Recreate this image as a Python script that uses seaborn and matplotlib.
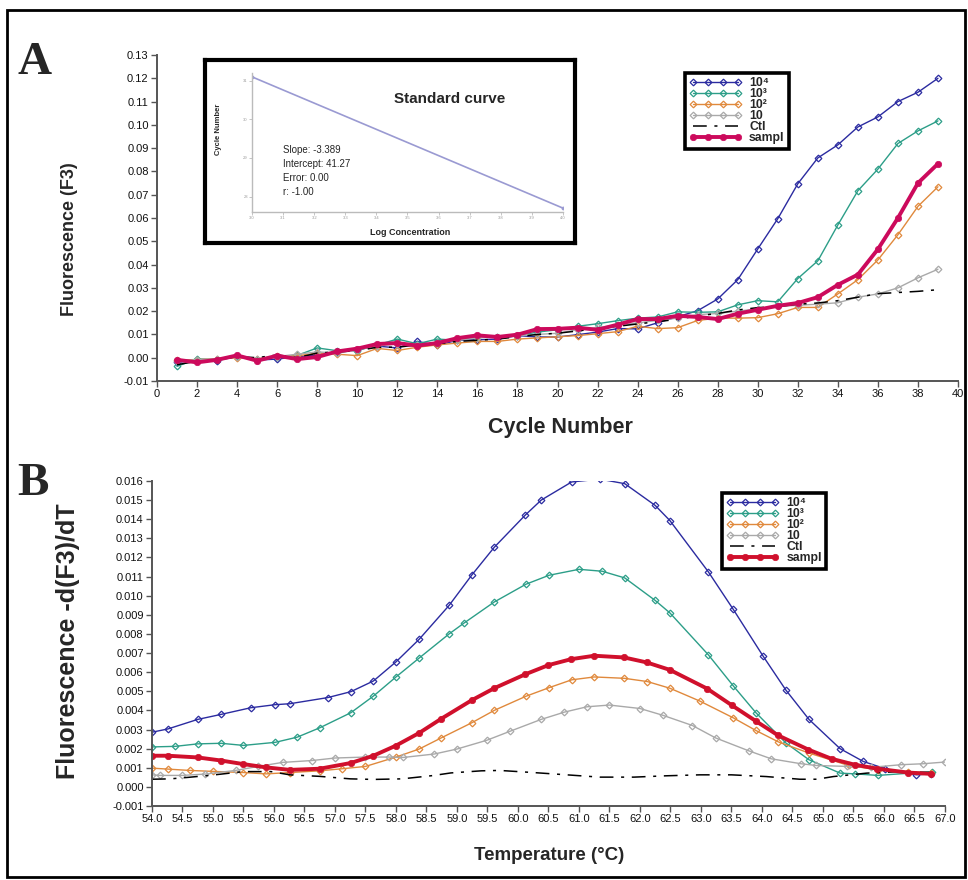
import matplotlib
matplotlib.use("Agg")
import matplotlib.pyplot as plt
from matplotlib.patches import Rectangle
from matplotlib.ticker import MultipleLocator, FormatStrFormatter
import seaborn as sns
import numpy as np

# ---------------- panel A : amplification (F3) per cycle ----------------
cycles = list(range(1, 40))
amp_1e4 = [-0.002, -0.001, -0.0012, 0.0005, -0.001, -0.0006, 0.0005, 0.001, 0.0025, 0.0035,
           0.005, 0.0042, 0.007, 0.0053, 0.0075, 0.0077, 0.008, 0.0095, 0.0089, 0.0089,
           0.0099, 0.011, 0.0125, 0.0124, 0.015, 0.0176, 0.0202, 0.0252, 0.0335, 0.0467,
           0.0597, 0.0747, 0.0858, 0.0914, 0.0991, 0.1034, 0.110, 0.114, 0.120]
amp_1e3 = [-0.0037, -0.0005, -0.0008, 0.0008, -0.0008, 0.0005, 0.001, 0.0042, 0.003, 0.003,
           0.0055, 0.008, 0.006, 0.008, 0.0075, 0.009, 0.009, 0.0095, 0.011, 0.012,
           0.0135, 0.0146, 0.0159, 0.017, 0.0175, 0.0197, 0.0195, 0.0197, 0.0227, 0.0245,
           0.024, 0.034, 0.0416, 0.057, 0.0717, 0.081, 0.092, 0.0974, 0.1017]
amp_1e2 = [-0.001, -0.0008, -0.0005, 0.0, -0.0005, 0.0008, 0.0008, 0.002, 0.0015, 0.0009,
           0.004, 0.0031, 0.0045, 0.0055, 0.0063, 0.007, 0.007, 0.008, 0.0085, 0.009,
           0.0095, 0.0103, 0.0112, 0.0135, 0.0125, 0.0129, 0.016, 0.017, 0.017, 0.0172,
           0.0189, 0.0216, 0.0216, 0.0274, 0.0335, 0.042, 0.0528, 0.065, 0.0734]
amp_1e1 = [-0.0015, -0.0008, -0.0005, 0.0005, -0.0005, 0.0005, 0.0015, 0.0025, 0.002, 0.0035,
           0.005, 0.006, 0.0055, 0.0065, 0.0075, 0.0085, 0.009, 0.0095, 0.01, 0.0105,
           0.012, 0.013, 0.014, 0.015, 0.016, 0.017, 0.0185, 0.019, 0.02, 0.021,
           0.022, 0.0225, 0.023, 0.0236, 0.026, 0.0274, 0.030, 0.0343, 0.038]
amp_ctl = [-0.003, -0.0015, -0.001, 0.0005, 0.0, 0.0012, 0.0, 0.002, 0.0025, 0.003,
           0.0045, 0.0045, 0.0055, 0.006, 0.007, 0.0075, 0.008, 0.009, 0.01, 0.0105,
           0.0115, 0.0125, 0.0135, 0.0145, 0.0155, 0.0165, 0.018, 0.019, 0.0205, 0.0215,
           0.022, 0.023, 0.0235, 0.0245, 0.026, 0.0275, 0.028, 0.0285, 0.0292]
amp_sampl = [-0.0009, -0.002, -0.0009, 0.001, -0.0013, 0.0009, -0.0006, 0.0003, 0.0027, 0.0039,
             0.0059, 0.0063, 0.0052, 0.0063, 0.0084, 0.0096, 0.0089, 0.0099, 0.0123, 0.0124,
             0.0129, 0.012, 0.0142, 0.0166, 0.0166, 0.018, 0.0175, 0.0166, 0.0189, 0.0206,
             0.0223, 0.0235, 0.026, 0.0313, 0.0357, 0.0466, 0.060, 0.075, 0.0833]

# standard curve inset
std_logconc = [3.0, 4.0]
std_cycle = [31.1, 27.7]
std_stats = ["Slope: -3.389", "Intercept: 41.27", "Error: 0.00", "r: -1.00"]

# ---------------- panel B : melting curves, -d(F3)/dT in units of 1e-3 ----------------
melt_1e4_t = [54.0, 54.26, 54.75, 55.13, 55.62, 56.02, 56.26, 56.88, 57.26, 57.63, 58.0, 58.38,
              58.87, 59.24, 59.61, 60.12, 60.38, 60.88, 61.34, 61.75, 62.25, 62.49, 63.12, 63.53,
              64.02, 64.39, 64.77, 65.28, 65.66, 66.02, 66.53, 66.77]
melt_1e4_v = [2.86, 3.03, 3.53, 3.79, 4.14, 4.3, 4.35, 4.67, 4.98, 5.54, 6.54, 7.72,
              9.49, 11.07, 12.53, 14.22, 15.0, 15.95, 16.1, 15.86, 14.72, 13.93, 11.25, 9.28,
              6.83, 5.07, 3.53, 2.0, 1.33, 0.95, 0.63, 0.68]
melt_1e3_t = [54.0, 54.38, 54.75, 55.13, 55.5, 56.02, 56.38, 56.75, 57.26, 57.63, 58.0, 58.38,
              58.87, 59.12, 59.61, 60.13, 60.51, 61.0, 61.38, 61.75, 62.25, 62.49, 63.12, 63.53,
              63.9, 64.39, 64.77, 65.28, 65.53, 65.9, 66.78]
melt_1e3_v = [2.09, 2.12, 2.25, 2.28, 2.17, 2.33, 2.6, 3.09, 3.88, 4.75, 5.75, 6.74,
              8.0, 8.58, 9.67, 10.6, 11.07, 11.38, 11.28, 10.93, 9.75, 9.1, 6.91, 5.28,
              3.88, 2.3, 1.42, 0.72, 0.68, 0.6, 0.8]
melt_1e2_t = [54.0, 54.26, 54.62, 55.0, 55.5, 55.87, 56.26, 56.75, 57.12, 57.5, 58.0, 58.38,
              58.74, 59.24, 59.61, 60.13, 60.51, 60.88, 61.25, 61.74, 62.12, 62.49, 62.98, 63.53,
              63.9, 64.27, 64.77, 65.42, 65.9, 66.39, 66.77]
melt_1e2_v = [0.98, 0.93, 0.86, 0.81, 0.75, 0.68, 0.75, 0.84, 0.95, 1.07, 1.56, 1.98,
              2.56, 3.35, 4.0, 4.74, 5.19, 5.6, 5.75, 5.68, 5.51, 5.16, 4.49, 3.61,
              2.95, 2.35, 1.77, 1.12, 0.89, 0.8, 0.72]
melt_1e1_t = [54.0, 54.13, 54.5, 54.87, 55.37, 55.74, 56.14, 56.63, 57.0, 57.5, 57.88, 58.12,
              58.63, 59.0, 59.49, 59.87, 60.38, 60.76, 61.13, 61.5, 62.0, 62.37, 62.86, 63.24,
              63.78, 64.15, 64.64, 64.89, 65.4, 65.78, 66.28, 66.64, 67.0]
melt_1e1_v = [0.63, 0.6, 0.6, 0.67, 0.86, 1.07, 1.28, 1.38, 1.51, 1.56, 1.56, 1.54,
              1.72, 1.98, 2.44, 2.91, 3.53, 3.91, 4.19, 4.28, 4.1, 3.75, 3.21, 2.56,
              1.89, 1.47, 1.21, 1.12, 1.07, 1.02, 1.16, 1.21, 1.3]
melt_ctl_t = [54.0, 54.3, 54.6, 55.0, 55.5, 55.95, 56.26, 56.75, 57.25, 57.63, 58.1, 58.6,
              58.9, 59.4, 59.7, 60.25, 60.8, 61.34, 61.9, 62.43, 62.98, 63.5, 64.07, 64.62,
              64.9, 65.17, 65.72, 66.26, 66.75]
melt_ctl_v = [0.4, 0.42, 0.5, 0.62, 0.8, 0.8, 0.63, 0.55, 0.42, 0.39, 0.42, 0.59,
              0.73, 0.84, 0.86, 0.75, 0.63, 0.51, 0.51, 0.58, 0.63, 0.63, 0.54, 0.4,
              0.4, 0.54, 0.72, 0.8, 0.75]
melt_sampl_t = [54.0, 54.26, 54.75, 55.13, 55.5, 55.87, 56.26, 56.75, 57.26, 57.63, 58.0, 58.38,
                58.74, 59.24, 59.61, 60.12, 60.5, 60.87, 61.25, 61.74, 62.11, 62.49, 63.1, 63.51,
                63.9, 64.26, 64.76, 65.14, 65.52, 65.89, 66.39, 66.77]
melt_sampl_v = [1.63, 1.63, 1.54, 1.38, 1.19, 1.02, 0.89, 0.95, 1.25, 1.63, 2.16, 2.82,
                3.56, 4.53, 5.16, 5.89, 6.37, 6.68, 6.86, 6.77, 6.51, 6.12, 5.14, 4.26,
                3.44, 2.7, 1.95, 1.47, 1.16, 0.95, 0.75, 0.68]

labels = ["10\u2074", "10\u00b3", "10\u00b2", "10", "Ctl", "sampl"]
colors = ["#2b2ba0", "#2c9e88", "#e0893c", "#a9a9a9"]
sampl_color_a = "#cc0a5c"
sampl_color_b = "#d0102c"

sns.set_theme(style="ticks")
plt.rcParams["font.family"] = ["Liberation Sans", "DejaVu Sans"]
plt.rcParams["axes.unicode_minus"] = False

fig = plt.figure(figsize=(9.68, 8.8), dpi=100)
W, H = 968, 880


def px_axes(left, top, right, bottom):
    return fig.add_axes([left / W, 1 - bottom / H, (right - left) / W, (bottom - top) / H])


def draw_series(ax, data, sampl_color):
    # data: list of (x, y) for 1e4, 1e3, 1e2, 10, ctl, sampl
    for i, (x, y) in enumerate(data[:4]):
        sns.lineplot(x=x, y=y, ax=ax, color=colors[i], linewidth=1.0, marker="D",
                     markersize=3.4, markerfacecolor="none", markeredgecolor=colors[i],
                     markeredgewidth=0.9, label=labels[i], estimator=None)
    x, y = data[4]
    sns.lineplot(x=x, y=y, ax=ax, color="black", linewidth=1.1,
                 linestyle=(0, (9, 5, 2, 5)), label=labels[4], estimator=None)
    x, y = data[5]
    sns.lineplot(x=x, y=y, ax=ax, color=sampl_color, linewidth=2.8, marker="o",
                 markersize=4.6, markeredgecolor=sampl_color, markeredgewidth=0.5,
                 label=labels[5], estimator=None)


def style_axes(ax):
    for side in ["top", "right"]:
        ax.spines[side].set_visible(False)
    for side in ["left", "bottom"]:
        ax.spines[side].set_color("#555555")
        ax.spines[side].set_linewidth(1.4)
    ax.tick_params(direction="out", length=4, width=1, color="#555555",
                   labelsize=8, labelcolor="#111111", pad=2)


def add_legend(ax, anchor):
    leg = ax.legend(loc="upper left", bbox_to_anchor=anchor, borderaxespad=0,
                    frameon=True, fancybox=False, edgecolor="black", framealpha=1,
                    numpoints=4, handlelength=4.3, handletextpad=0.6, labelspacing=-0.08,
                    borderpad=0.35, prop={"weight": "bold", "size": 8.8})
    leg.get_frame().set_linewidth(2.6)


# ---- panel A ----
axA = px_axes(157, 55, 958, 381)
draw_series(axA, [(cycles, amp_1e4), (cycles, amp_1e3), (cycles, amp_1e2),
                  (cycles, amp_1e1), (cycles, amp_ctl), (cycles, amp_sampl)], sampl_color_a)
axA.set_xlim(0, 40)
axA.set_ylim(-0.01, 0.13)
axA.xaxis.set_major_locator(MultipleLocator(2))
axA.yaxis.set_major_locator(MultipleLocator(0.01))
axA.yaxis.set_major_formatter(FormatStrFormatter("%.2f"))
axA.set_xlabel("")
axA.set_ylabel("")
style_axes(axA)
add_legend(axA, (0.659, 0.945))

# standard curve inset: framed box and a small plot inside
box = px_axes(205, 60, 575, 243)
box.set_xticks([])
box.set_yticks([])
box.set_facecolor("white")
for s in box.spines.values():
    s.set_linewidth(3)
    s.set_color("black")
    s.set_visible(True)

mini = px_axes(252, 73, 563, 212)
sns.lineplot(x=std_logconc, y=std_cycle, ax=mini, color="#9a9ad2", linewidth=1.2,
             marker="o", markersize=2, markeredgecolor="#9a9ad2", estimator=None)
mini.set_xlim(3.0, 4.0)
mini.set_ylim(27.6, 31.2)
mini.set_xticks(np.arange(3.0, 4.01, 0.1))
mini.set_yticks([28, 29, 30, 31])
mini.xaxis.set_major_formatter(FormatStrFormatter("%.1f"))
mini.patch.set_alpha(0)
for side in ["top", "right"]:
    mini.spines[side].set_visible(False)
for side in ["left", "bottom"]:
    mini.spines[side].set_color("#bbbbbb")
    mini.spines[side].set_linewidth(1)
mini.tick_params(length=2, width=0.6, color="#bbbbbb", labelsize=3, labelcolor="#999999", pad=1)
mini.set_xlabel("")
mini.set_ylabel("")

fig.text(450 / W, 1 - 103 / H, "Standard curve", ha="center", va="baseline",
         fontsize=11, fontweight="bold")
for i, line in enumerate(std_stats):
    fig.text(283 / W, 1 - (153 + 14 * i) / H, line, ha="left", va="baseline", fontsize=7)
fig.text(219 / W, 1 - 129 / H, "Cycle Number", rotation=90, ha="center", va="center",
         fontsize=5.5, fontweight="bold")
fig.text(410 / W, 1 - 232 / H, "Log Concentration", ha="center", va="center",
         fontsize=6.5, fontweight="bold")

# ---- panel B ----
axB = px_axes(152, 481, 945, 806)
draw_series(axB, [(melt_1e4_t, np.array(melt_1e4_v) / 1000),
                  (melt_1e3_t, np.array(melt_1e3_v) / 1000),
                  (melt_1e2_t, np.array(melt_1e2_v) / 1000),
                  (melt_1e1_t, np.array(melt_1e1_v) / 1000),
                  (melt_ctl_t, np.array(melt_ctl_v) / 1000),
                  (melt_sampl_t, np.array(melt_sampl_v) / 1000)], sampl_color_b)
axB.set_xlim(54.0, 67.0)
axB.set_ylim(-0.001, 0.016)
axB.xaxis.set_major_locator(MultipleLocator(0.5))
axB.xaxis.set_major_formatter(FormatStrFormatter("%.1f"))
axB.yaxis.set_major_locator(MultipleLocator(0.001))
axB.yaxis.set_major_formatter(FormatStrFormatter("%.3f"))
axB.set_xlabel("")
axB.set_ylabel("")
style_axes(axB)
add_legend(axB, (0.719, 0.963))

# axis titles and panel letters
fig.text(560 / W, 1 - 428 / H, "Cycle Number", ha="center", va="center",
         fontsize=15.5, fontweight="bold")
fig.text(70 / W, 1 - 239 / H, "Fluorescence (F3)", rotation=90, ha="center", va="center",
         fontsize=13, fontweight="bold")
fig.text(549 / W, 1 - 855 / H, "Temperature (\u00b0C)", ha="center", va="center",
         fontsize=13.5, fontweight="bold")
fig.text(68 / W, 1 - 641 / H, "Fluorescence -d(F3)/dT", rotation=90, ha="center", va="center",
         fontsize=18, fontweight="bold")
fig.text(17 / W, 1 - 74 / H, "A", ha="left", va="baseline", fontsize=34,
         fontweight="bold", family="Liberation Serif")
fig.text(17 / W, 1 - 495 / H, "B", ha="left", va="baseline", fontsize=34,
         fontweight="bold", family="Liberation Serif")

# outer frame round the whole figure
fig.patches.append(Rectangle((7 / W, 3 / H), 958 / W, 867 / H, transform=fig.transFigure,
                             fill=False, linewidth=2, edgecolor="black"))

fig.savefig("out.png", dpi=100)
